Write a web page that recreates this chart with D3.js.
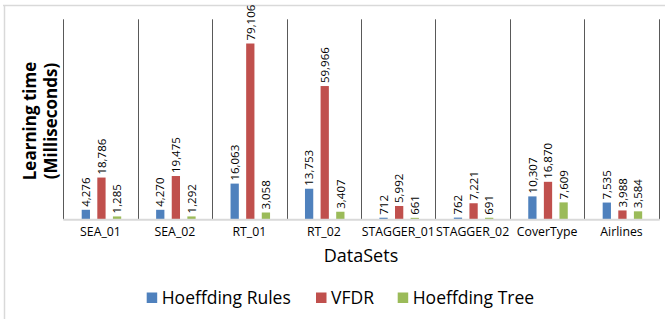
<!DOCTYPE html>
<html><head><meta charset="utf-8">
<script src="https://cdn.jsdelivr.net/npm/d3@7"></script>
<style>
html,body{margin:0;padding:0;background:#fff;}
svg{display:block;}
</style>
</head><body>
<svg id="chart" width="665" height="319"></svg>
<script>
const categories = ["SEA_01","SEA_02","RT_01","RT_02","STAGGER_01","STAGGER_02","CoverType","Airlines"];
const seriesNames = ["Hoeffding Rules","VFDR","Hoeffding Tree"];
const hoeffdingRules = [4276,4270,16063,13753,712,762,10307,7535];
const vfdr = [18786,19475,79106,59966,5992,7221,16870,3988];
const hoeffdingTree = [1285,1292,3058,3407,661,691,7609,3584];
const colors = ["#4F81BD","#C0504D","#9BBB59"];
const yMax = 90000;

(function(){
const seriesValues = [hoeffdingRules, vfdr, hoeffdingTree];
const svg = d3.select("#chart");
const font = "'Open Sans', sans-serif";

// outer frame
svg.append("line").attr("x1",3).attr("x2",665).attr("y1",5.5).attr("y2",5.5).attr("stroke","#D9D9D9").attr("stroke-width",1.5);
svg.append("line").attr("x1",4.5).attr("x2",4.5).attr("y1",5).attr("y2",319).attr("stroke","#D9D9D9").attr("stroke-width",1.5);

const pl = 63.3, pr = 658.7, pt = 19.3, pb = 219.3;
const x0 = d3.scaleBand().domain(categories).range([pl,pr]).padding(0);
const groupOffset = 18.4, groupWidth = 39.5;
const x1 = d3.scaleBand().domain(seriesNames).range([0,groupWidth]).paddingInner(0.47).paddingOuter(0);
const y = d3.scaleLinear().domain([0,yMax]).range([pb,pt]);

// vertical separators
const seps = categories.map(c => x0(c)).concat([pr]);
svg.append("g").selectAll("line").data(seps).join("line")
  .attr("x1",d=>Math.round(d)+0.5).attr("x2",d=>Math.round(d)+0.5)
  .attr("y1",y(yMax)).attr("y2",pb)
  .attr("stroke","#595959").attr("stroke-width",1);

// bars
const rows = [];
categories.forEach((c,i)=>seriesNames.forEach((s,j)=>rows.push({c,s,j,v:seriesValues[j][i]})));
svg.append("g").selectAll("rect").data(rows).join("rect")
  .attr("x",d=>x0(d.c)+groupOffset+x1(d.s))
  .attr("width",x1.bandwidth())
  .attr("y",d=>y(d.v))
  .attr("height",d=>pb-y(d.v))
  .attr("fill",d=>colors[d.j]);

// baseline
svg.append("line").attr("x1",pl).attr("x2",pr+1).attr("y1",pb+0.5).attr("y2",pb+0.5)
  .attr("stroke","#D9D9D9").attr("stroke-width",2);

// data labels
const fmt = d3.format(",");
svg.append("g").selectAll("text").data(rows).join("text")
  .attr("transform",d=>`translate(${x0(d.c)+groupOffset+x1(d.s)+x1.bandwidth()/2+4.2},${y(d.v)-3}) rotate(-90)`)
  .attr("font-family",font).attr("font-size",11.5).attr("fill","#000")
  .text(d=>fmt(d.v));

// x axis labels
const xAxis = d3.axisBottom(x0).tickSize(0).tickPadding(8);
const gx = svg.append("g").attr("transform",`translate(0,${pb})`).call(xAxis);
gx.select(".domain").remove();
gx.selectAll("text").attr("font-family",font).attr("font-size",12.3).attr("fill","#000");

// axis titles
svg.append("text").attr("x",(pl+pr)/2).attr("y",262).attr("text-anchor","middle")
  .attr("font-family",font).attr("font-size",18).attr("fill","#000").text("DataSets");
const yt = svg.append("text").attr("transform",`translate(36,121) rotate(-90)`)
  .attr("text-anchor","middle").attr("font-family",font).attr("font-size",17).attr("font-weight","bold").attr("fill","#000");
yt.append("tspan").attr("x",0).attr("dy",0).text("Learning time");
yt.append("tspan").attr("x",0).attr("dy",21).text("(Milliseconds)");

// legend
const legendX = [146.7, 316, 397.7];
const lg = svg.append("g").selectAll("g").data(seriesNames).join("g")
  .attr("transform",(d,i)=>`translate(${legendX[i]},292.5)`);
lg.append("rect").attr("width",10.5).attr("height",10.5).attr("fill",(d,i)=>colors[i]);
lg.append("text").attr("x",15).attr("y",11).attr("font-family",font).attr("font-size",17.5).attr("fill","#000").text(d=>d);
})();
</script>
</body></html>
